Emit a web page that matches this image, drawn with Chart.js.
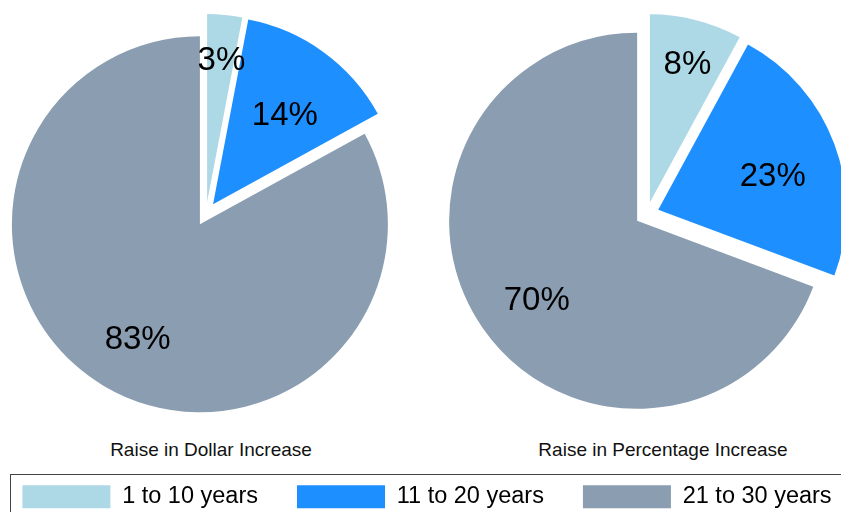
<!DOCTYPE html>
<html>
<head>
<meta charset="utf-8">
<script src="https://cdn.jsdelivr.net/npm/chart.js@4.4.0/dist/chart.umd.min.js"></script>
<style>
  html, body { margin: 0; padding: 0; background: #fff; overflow: hidden; width: 841px; height: 512px; }
  body { position: relative; font-family: "Liberation Sans", Arial, sans-serif; }
  canvas { position: absolute; }
  #dollarChart { left: 0; top: 0; }
  #percentChart { left: 441px; top: 0; }
  .caption { position: absolute; top: 439px; font-size: 19px; line-height: 22px; color: #111; white-space: nowrap; transform: translateX(-50%); }
  #legendFrame { position: absolute; left: 10px; top: 474px; width: 900px; height: 100px; border: 1px solid #444; }
  #legendChart { left: -23px; top: 446px; }
</style>
</head>
<body>
<div id="legendFrame"></div>
<canvas id="dollarChart" width="412" height="428"></canvas>
<canvas id="percentChart" width="412" height="428"></canvas>
<div class="caption" style="left:211px">Raise in Dollar Increase</div>
<div class="caption" style="left:663px">Raise in Percentage Increase</div>
<canvas id="legendChart" width="900" height="130"></canvas>
<script>
const ageGroups = ['1 to 10 years', '11 to 20 years', '21 to 30 years'];
const dollarShares = [3, 14, 83];
const percentShares = [8, 23, 70];
const sliceColors = ['#ADD8E6', '#1E8FFF', '#8A9DB1'];

const PIE_RADIUS = 188;
const GAP = 12; // every slice pulled out by the same amount

// the built in "offset" also grows the radius of thin slices, so push each arc out ourselves
class ExplodedArc extends Chart.ArcElement {
    draw(ctx) {
        const mid = (this.startAngle + this.endAngle) / 2;
        ctx.save();
        ctx.translate(Math.cos(mid) * GAP, Math.sin(mid) * GAP);
        super.draw(ctx);
        ctx.restore();
    }
}
ExplodedArc.id = 'explodedArc';

class ExplodedPie extends Chart.PieController {}
ExplodedPie.id = 'explodedPie';
ExplodedPie.defaults = { dataElementType: 'explodedArc' };

Chart.register(ExplodedArc, ExplodedPie);

function sliceAngle(values, i) {
    const total = values.reduce((a, b) => a + b, 0);
    return values[i] / total * Math.PI * 2;
}

const pctLabels = {
    id: 'pctLabels',
    afterDatasetsDraw(chart) {
        const ctx = chart.ctx;
        const meta = chart.getDatasetMeta(0);
        const values = chart.data.datasets[0].data;
        ctx.save();
        ctx.font = '33px "Liberation Sans", Arial, sans-serif';
        ctx.fillStyle = '#000';
        ctx.textAlign = 'center';
        ctx.textBaseline = 'middle';
        meta.data.forEach((arc, i) => {
            const {x, y, startAngle, endAngle, outerRadius} = arc.getProps(['x', 'y', 'startAngle', 'endAngle', 'outerRadius'], true);
            const mid = (startAngle + endAngle) / 2;
            // thin slices get their label further out
            const frac = sliceAngle(values, i) < Math.PI / 4 ? 0.81 : 0.65;
            const d = GAP + outerRadius * frac;
            ctx.fillText(values[i] + '%', x + Math.cos(mid) * d, y + Math.sin(mid) * d + 10);
        });
        ctx.restore();
    }
};

function drawPie(canvasId, values) {
    new Chart(document.getElementById(canvasId), {
        type: 'explodedPie',
        data: {
            labels: ageGroups,
            datasets: [{
                data: values,
                backgroundColor: sliceColors,
                borderWidth: 0,
                radius: PIE_RADIUS
            }]
        },
        options: {
            responsive: false,
            animation: false,
            events: [],
            plugins: {
                legend: { display: false },
                tooltip: { enabled: false }
            }
        },
        plugins: [pctLabels]
    });
}

drawPie('dollarChart', dollarShares);
drawPie('percentChart', percentShares);

// shared legend along the bottom
new Chart(document.getElementById('legendChart'), {
    type: 'pie',
    data: {
        labels: ageGroups,
        datasets: [{ data: dollarShares, backgroundColor: sliceColors, borderWidth: 0, radius: 0 }]
    },
    options: {
        responsive: false,
        animation: false,
        events: [],
        plugins: {
            tooltip: { enabled: false },
            legend: {
                position: 'top',
                labels: {
                    boxWidth: 88,
                    boxHeight: 23,
                    padding: 39,
                    color: '#000',
                    font: { size: 23.5, family: '"Liberation Sans", Arial, sans-serif' }
                }
            }
        }
    }
});
</script>
</body>
</html>
